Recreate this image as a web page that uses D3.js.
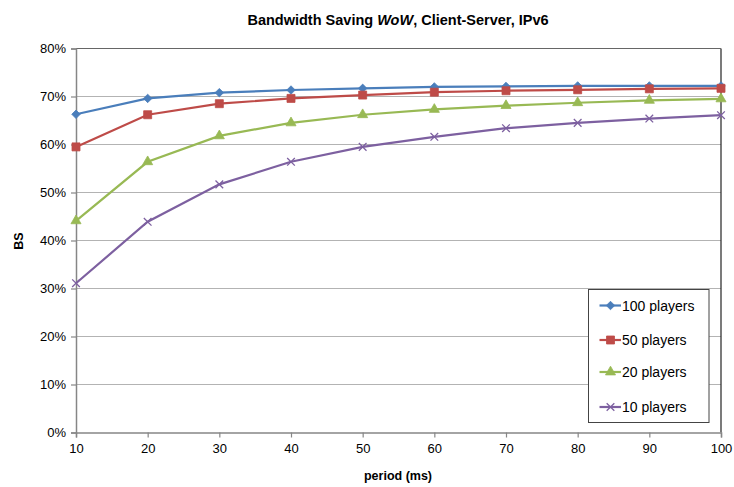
<!DOCTYPE html>
<html>
<head>
<meta charset="utf-8">
<script src="https://cdn.jsdelivr.net/npm/d3@7"></script>
<style>
  body { margin: 0; background: #fff; }
  svg { font-family: "Liberation Sans", Arial, sans-serif; }
</style>
</head>
<body>
<svg id="chart" width="734" height="487"></svg>
<script>
// Period values on the x axis (ms)
const periods = [10, 20, 30, 40, 50, 60, 70, 80, 90, 100];

// Bandwidth saving (%) per player count
const players100 = [66.3, 69.6, 70.8, 71.35, 71.7, 72.0, 72.1, 72.2, 72.2, 72.2];
const players50  = [59.5, 66.2, 68.5, 69.6, 70.3, 70.9, 71.2, 71.4, 71.6, 71.7];
const players20  = [44.1, 56.4, 61.8, 64.5, 66.2, 67.3, 68.1, 68.7, 69.2, 69.5];
const players10  = [31.1, 43.9, 51.7, 56.4, 59.5, 61.6, 63.4, 64.5, 65.4, 66.1];

const seriesNames = ["100 players", "50 players", "20 players", "10 players"];
const yTicks = [0, 10, 20, 30, 40, 50, 60, 70, 80];

// Square rotated 45 degrees, as a symbol type
const symbolRhombus = {
  draw(ctx, size) {
    const r = Math.sqrt(size / 2);
    ctx.moveTo(0, -r); ctx.lineTo(r, 0); ctx.lineTo(0, r); ctx.lineTo(-r, 0); ctx.closePath();
  }
};

const series = [
  { name: seriesNames[0], values: players100, color: "#4a7ebb", symbol: symbolRhombus,    size: 36 },
  { name: seriesNames[1], values: players50,  color: "#be4b48", symbol: d3.symbolSquare,  size: 64 },
  { name: seriesNames[2], values: players20,  color: "#98b954", symbol: d3.symbolTriangle, size: 44 },
  { name: seriesNames[3], values: players10,  color: "#7d60a0", symbol: d3.symbolX,       size: 40 }
];

const svg = d3.select("#chart");
const margin = { left: 76, right: 13, top: 48.5, bottom: 54.5 };
const W = 734, H = 487;

const x = d3.scaleLinear().domain([10, 100]).range([margin.left, W - margin.right]);
const y = d3.scaleLinear().domain([0, 80]).range([H - margin.bottom, margin.top]);

// Horizontal gridlines
svg.append("g")
  .selectAll("line")
  .data(yTicks.filter(t => t > 0))
  .join("line")
  .attr("x1", x(10)).attr("x2", x(100))
  .attr("y1", d => y(d)).attr("y2", d => y(d))
  .attr("stroke", "#b3b3b3").attr("stroke-width", 1.2);

// Right border of the plot area
svg.append("line")
  .attr("x1", x(100)).attr("x2", x(100))
  .attr("y1", y(80)).attr("y2", y(0))
  .attr("stroke", "#222").attr("stroke-width", 1.2);
// Top border
svg.append("line")
  .attr("x1", x(10)).attr("x2", x(100))
  .attr("y1", y(80)).attr("y2", y(80))
  .attr("stroke", "#666").attr("stroke-width", 1.2);

// Axes
const xAxis = svg.append("g")
  .attr("transform", `translate(0,${y(0)})`)
  .call(d3.axisBottom(x).tickValues(periods).tickSize(5).tickPadding(6).tickFormat(d3.format("d")));
const yAxis = svg.append("g")
  .attr("transform", `translate(${x(10)},0)`)
  .call(d3.axisLeft(y).tickValues(yTicks).tickSize(5).tickPadding(5).tickFormat(d => d + "%"));

[xAxis, yAxis].forEach(g => {
  g.select(".domain").attr("stroke", "#868686").attr("stroke-width", 1.5);
  g.selectAll(".tick line").attr("stroke", "#868686").attr("stroke-width", 1.2);
  g.selectAll(".tick text")
    .attr("font-family", "'Liberation Sans', Arial, sans-serif")
    .attr("font-size", 13).attr("fill", "#000");
});

// Lines and markers
const line = d3.line().x((d, i) => x(periods[i])).y(d => y(d));
series.forEach(s => {
  svg.append("path")
    .datum(s.values)
    .attr("d", line)
    .attr("fill", "none")
    .attr("stroke", s.color)
    .attr("stroke-width", 2.2);
  const sym = d3.symbol().type(s.symbol).size(s.size);
  svg.append("g")
    .selectAll("path")
    .data(s.values)
    .join("path")
    .attr("transform", (d, i) => `translate(${x(periods[i])},${y(d)})`)
    .attr("d", sym)
    .attr("fill", s.symbol === d3.symbolX ? "none" : s.color)
    .attr("stroke", s.color)
    .attr("stroke-width", s.symbol === d3.symbolX ? 1.3 : 0.8);
});

// Legend
const lg = svg.append("g");
lg.append("rect")
  .attr("x", 588.5).attr("y", 289.5).attr("width", 120.5).attr("height", 133)
  .attr("fill", "#fff").attr("stroke", "#444").attr("stroke-width", 1);
const legendY = [305.5, 340, 372, 407];
series.forEach((s, i) => {
  const ly = legendY[i];
  lg.append("line")
    .attr("x1", 599.5).attr("x2", 621).attr("y1", ly).attr("y2", ly)
    .attr("stroke", s.color).attr("stroke-width", 2.2);
  lg.append("path")
    .attr("transform", `translate(610.5,${ly})`)
    .attr("d", d3.symbol().type(s.symbol).size(s.size)())
    .attr("fill", s.symbol === d3.symbolX ? "none" : s.color)
    .attr("stroke", s.color)
    .attr("stroke-width", s.symbol === d3.symbolX ? 1.3 : 0.8);
  lg.append("text")
    .attr("x", 622).attr("y", ly + 5)
    .attr("font-size", 14).attr("fill", "#000")
    .text(s.name);
});

// Title
const title = svg.append("text")
  .attr("x", 398).attr("y", 25)
  .attr("text-anchor", "middle")
  .attr("font-size", 14.5).attr("font-weight", "bold");
title.append("tspan").text("Bandwidth Saving ");
title.append("tspan").attr("font-style", "italic").text("WoW");
title.append("tspan").text(", Client-Server, IPv6");

// Axis titles
svg.append("text")
  .attr("x", 398).attr("y", 480)
  .attr("text-anchor", "middle")
  .attr("font-size", 12.5).attr("font-weight", "bold")
  .text("period (ms)");
svg.append("text")
  .attr("transform", "translate(23,241) rotate(-90)")
  .attr("text-anchor", "middle")
  .attr("font-size", 12.5).attr("font-weight", "bold")
  .text("BS");
</script>
</body>
</html>
